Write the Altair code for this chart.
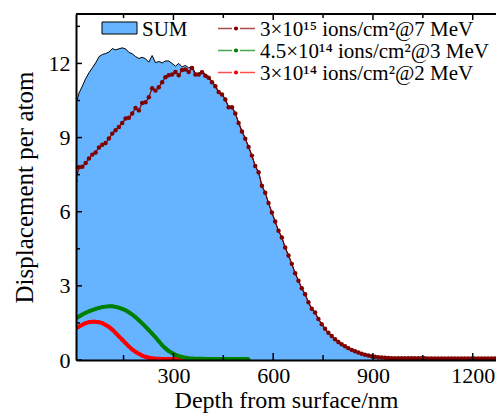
import altair as alt
import pandas as pd

FONT = "Liberation Serif"
BLUE = "#66b3ff"

# depth grid (nm) of the profiles, 10 nm spacing
depth = list(range(6, 1270, 10))

dark = [7.25, 7.80, 7.82, 7.97, 8.15, 8.31, 8.40, 8.60, 8.71, 8.78,
        8.96, 9.16, 9.30, 9.43, 9.59, 9.77, 9.80, 9.97, 10.20, 10.10,
        10.40, 10.43, 10.63, 11.00, 10.90, 11.04, 11.24, 11.44, 11.52, 11.55,
        11.65, 11.52, 11.73, 11.75, 11.65, 11.82, 11.55, 11.55, 11.64, 11.50,
        11.42, 11.24, 11.08, 10.84, 10.74, 10.54, 10.23, 10.23, 9.97, 9.59,
        9.25, 8.95, 8.62, 8.27, 7.85, 7.60, 7.05, 6.77, 6.35, 5.97,
        5.60, 5.23, 4.96, 4.55, 4.23, 3.89, 3.51, 3.21, 2.90, 2.66,
        2.34, 2.07, 1.92, 1.66, 1.45, 1.26, 1.10, 0.97, 0.84, 0.73,
        0.64, 0.56, 0.48, 0.41, 0.35, 0.30, 0.25, 0.21, 0.18, 0.15,
        0.13, 0.11, 0.10, 0.09, 0.08, 0.07, 0.07, 0.07, 0.07, 0.07,
        0.07, 0.07, 0.07, 0.07, 0.07, 0.07, 0.06, 0.06, 0.06, 0.06,
        0.06, 0.06, 0.06, 0.06, 0.06, 0.06, 0.06, 0.06, 0.06, 0.06,
        0.06, 0.06, 0.06, 0.06, 0.06, 0.06, 0.06]

sum_head = [10.30, 10.80, 11.08, 11.38, 11.62, 11.82, 12.02, 12.27, 12.36, 12.40,
            12.46, 12.60, 12.55, 12.59, 12.63, 12.59, 12.45, 12.39, 12.28, 12.20,
            12.25, 12.19, 12.05, 12.32, 12.03, 12.08, 12.02, 12.10, 12.10, 12.00,
            11.89, 12.00, 11.86, 11.92, 11.82, 11.88, 11.60, 11.60, 11.70, 11.54,
            11.47, 11.27, 11.10, 10.86, 10.76, 10.56, 10.25, 10.25, 9.99, 9.61,
            9.27, 8.97, 8.63]
sum_vals = sum_head + dark[len(sum_head):]

green = [1.68, 1.76, 1.84, 1.91, 1.97, 2.02, 2.07, 2.11, 2.14, 2.16,
         2.17, 2.17, 2.15, 2.12, 2.07, 2.01, 1.93, 1.84, 1.73, 1.61,
         1.48, 1.35, 1.21, 1.07, 0.92, 0.76, 0.60, 0.47, 0.36, 0.28,
         0.21, 0.16, 0.12, 0.09, 0.07, 0.06, 0.05, 0.05, 0.05, 0.04,
         0.04, 0.04, 0.04, 0.04, 0.04, 0.04, 0.04, 0.04, 0.04, 0.04,
         0.04, 0.04, 0.04]

red = [1.27, 1.35, 1.43, 1.49, 1.53, 1.55, 1.55, 1.53, 1.49, 1.42,
       1.34, 1.23, 1.10, 0.96, 0.82, 0.68, 0.55, 0.43, 0.33, 0.25,
       0.18, 0.13, 0.09, 0.07, 0.05, 0.05, 0.04, 0.04, 0.04, 0.04,
       0.04, 0.04, 0.04, 0.04, 0.04, 0.04, 0.04, 0.04]

x_ticks_major = [300, 600, 900, 1200]
x_ticks_minor = [150, 450, 750, 1050]
y_ticks_major = [0, 3, 6, 9, 12]
y_ticks_minor = [1.5, 4.5, 7.5, 10.5, 13.5]

legend_labels = ["3×10¹⁵ ions/cm²@7 MeV",
                 "4.5×10¹⁴ ions/cm²@3 MeV",
                 "3×10¹⁴ ions/cm²@2 MeV"]
legend_colors = ["#800000", "#008000", "#ff0000"]

W, H = 420, 346

xscale = alt.Scale(domain=[7, 1270], nice=False, zero=False)
yscale = alt.Scale(domain=[0, 14], nice=False)

xaxis = alt.Axis(values=x_ticks_major, format="d", ticks=False, grid=False,
                 domainColor="black", domainWidth=2, labelFont=FONT, labelFontSize=22,
                 labelColor="black", labelPadding=5, labelFlush=False,
                 title="Depth from surface/nm", titleFont=FONT, titleFontSize=24,
                 titleFontWeight="normal", titleColor="black", titlePadding=2, zindex=2)
yaxis = alt.Axis(values=y_ticks_major, format="d", ticks=False, grid=False,
                 domainColor="black", domainWidth=2, labelFont=FONT, labelFontSize=22,
                 labelColor="black", labelPadding=6, labelFlush=False,
                 title="Displacement per atom", titleFont=FONT, titleFontSize=25,
                 titleFontWeight="normal", titleColor="black", titlePadding=11, zindex=2)


def X(field):
    return alt.X(field, scale=xscale, axis=xaxis, title="Depth from surface/nm")


def Y(field):
    return alt.Y(field, scale=yscale, axis=yaxis, title="Displacement per atom")


df_sum = pd.DataFrame({"depth": depth, "value": sum_vals})
df_dark = pd.DataFrame({"depth": depth, "value": dark})
df_green = pd.DataFrame({"depth": depth[:len(green)], "value": green})
df_red = pd.DataFrame({"depth": depth[:len(red)], "value": red})

area = alt.Chart(df_sum).mark_area(
    color=BLUE, opacity=1, line={"color": "black", "strokeWidth": 1}, clip=True
).encode(x=X("depth:Q"), y=Y("value:Q"))


def series(df, color, lw, size):
    ln = alt.Chart(df).mark_line(color=color, strokeWidth=lw, clip=True).encode(
        x=X("depth:Q"), y=Y("value:Q"))
    pt = alt.Chart(df).mark_circle(color=color, size=size, opacity=1, clip=True).encode(
        x=X("depth:Q"), y=Y("value:Q"))
    return [ln, pt]


layers = [area]
layers += series(df_red, "#ff0000", 4, 14)
layers += series(df_green, "#008000", 4, 14)
layers += series(df_dark, "#800000", 1.2, 20)


# inward ticks
def xt(vals, length, top):
    df = pd.DataFrame({"v": vals})
    if top:
        yy = dict(y=alt.value(0), y2=alt.value(length))
    else:
        yy = dict(y=alt.value(H), y2=alt.value(H - length))
    return alt.Chart(df).mark_rule(color="black", strokeWidth=1.5).encode(
        x=X("v:Q"), **yy)


def yt(vals, length):
    df = pd.DataFrame({"v": vals})
    return alt.Chart(df).mark_rule(color="black", strokeWidth=1.5).encode(
        y=Y("v:Q"), x=alt.value(0), x2=alt.value(length))


layers += [xt(x_ticks_major, 7, False), xt(x_ticks_minor, 5, False),
           xt(x_ticks_major, 6, True), xt(x_ticks_minor, 4, True),
           yt(y_ticks_major, 6), yt(y_ticks_minor, 4)]

one = pd.DataFrame({"label": ["SUM"]})
layers.append(alt.Chart(one).mark_rule(color="black", strokeWidth=2).encode(
    x=alt.value(0), x2=alt.value(W), y=alt.value(0)))

# legend
layers.append(alt.Chart(one).mark_rect(fill=BLUE, stroke="black", strokeWidth=1).encode(
    x=alt.value(26), x2=alt.value(61), y=alt.value(8), y2=alt.value(20)))
layers.append(alt.Chart(one).mark_text(align="left", baseline="alphabetic", font=FONT,
                                       fontSize=21, color="black").encode(
    text="label:N", x=alt.value(66), y=alt.value(22)))

row_line = [14.5, 36.5, 58.5]
row_text = [22, 44, 66]
for lab, col, yl, ytx in zip(legend_labels, legend_colors, row_line, row_text):
    d = pd.DataFrame({"label": [lab]})
    for a, b in [(142, 156), (164, 179)]:
        layers.append(alt.Chart(d).mark_rule(color=col, strokeWidth=1.5, opacity=0.7).encode(
            x=alt.value(a), x2=alt.value(b), y=alt.value(yl)))
    layers.append(alt.Chart(d).mark_circle(color=col, size=18, opacity=1).encode(
        x=alt.value(160), y=alt.value(yl)))
    layers.append(alt.Chart(d).mark_text(align="left", baseline="alphabetic", font=FONT,
                                         fontSize=21, color="black").encode(
        text="label:N", x=alt.value(184), y=alt.value(ytx)))

chart = alt.layer(*layers).properties(
    width=W, height=H,
    padding={"left": 68, "top": 6, "right": 0, "bottom": 54},
    autosize=alt.AutoSizeParams(type="none"),
).configure_view(stroke=None)

chart.save("out.html", embed_options={"renderer": "svg", "actions": False})
